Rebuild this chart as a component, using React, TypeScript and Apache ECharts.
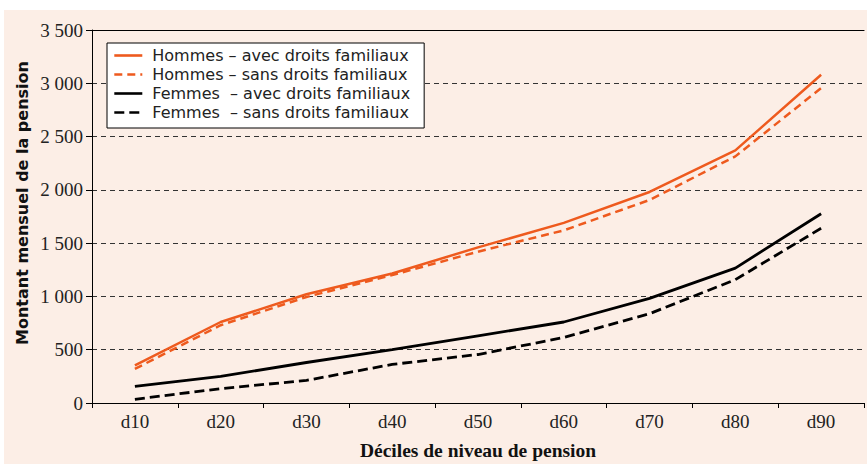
import React, { useEffect, useRef } from "react";
import * as echarts from "echarts";

const categories = ["d10", "d20", "d30", "d40", "d50", "d60", "d70", "d80", "d90"];
const hommesAvec = [353, 760, 1020, 1215, 1460, 1690, 1980, 2370, 3080];
const hommesSans = [320, 730, 995, 1200, 1420, 1620, 1905, 2314, 2955];
const femmesAvec = [156, 250, 380, 500, 630, 760, 982, 1266, 1776];
const femmesSans = [35, 135, 212, 362, 455, 615, 838, 1157, 1640];
const yTicks = [0, 500, 1000, 1500, 2000, 2500, 3000, 3500];

const ORANGE = "#EE5A1E";
const BLACK = "#000000";

function fmt(v: number): string {
  const s = String(Math.round(v));
  return s.replace(/\B(?=(\d{3})+(?!\d))/g, " ");
}

export default function App() {
  const ref = useRef<HTMLDivElement>(null);
  useEffect(() => {
    document.body.style.margin = "0";
    if (!ref.current) return;
    const chart = echarts.init(ref.current, undefined, { renderer: "svg" });
    const serif = "Liberation Serif";
    const sans = "DejaVu Sans";
    chart.setOption({
      animation: false,
      backgroundColor: "#ffffff",
      graphic: [
        {
          type: "rect",
          z: -10,
          silent: true,
          shape: { x: 4, y: 10, width: 863, height: 454 },
          style: { fill: "#FCEEE6" },
        },
        {
          type: "text",
          x: 22,
          y: 203,
          rotation: Math.PI / 2,
          style: {
            text: "Montant mensuel de la pension",
            font: `bold 16px "${sans}"`,
            fill: "#111",
            align: "center",
            verticalAlign: "middle",
          },
        },
      ],
      grid: { left: 92, right: 3, top: 30, bottom: 61, outerBoundsMode: "none", containLabel: false },
      legend: {
        orient: "vertical",
        left: 107,
        top: 43,
        backgroundColor: "#ffffff",
        borderColor: "#000000",
        borderWidth: 1,
        padding: [3, 14, 6, 6],
        itemWidth: 28,
        itemHeight: 14,
        itemGap: 0,
        itemStyle: { opacity: 0, borderWidth: 0 },
        lineStyle: { width: 2.6 },
        textStyle: {
          fontFamily: sans,
          fontSize: 16,
          lineHeight: 19,
          color: "#222",
          padding: [0, 0, 0, 5],
        },
        data: [
          "Hommes – avec droits familiaux",
          "Hommes – sans droits familiaux",
          "Femmes  – avec droits familiaux",
          "Femmes  – sans droits familiaux",
        ],
      },
      xAxis: [
        {
          type: "category",
          data: categories,
          boundaryGap: true,
          name: "Déciles de niveau de pension",
          nameLocation: "middle",
          nameGap: 37,
          nameTextStyle: { fontFamily: serif, fontWeight: "bold", fontSize: 19.5, color: "#111" },
          axisLine: { show: true, lineStyle: { color: "#000", width: 1 } },
          axisTick: { show: true, length: 5, lineStyle: { color: "#000" } },
          axisLabel: { fontFamily: serif, fontSize: 19, color: "#222", margin: 9 },
          splitLine: { show: false },
        },
        {
          type: "category",
          data: categories,
          position: "top",
          axisLine: { show: true, lineStyle: { color: "#000", width: 1.2 } },
          axisTick: { show: false },
          axisLabel: { show: false },
          splitLine: { show: false },
        },
      ],
      yAxis: {
        type: "value",
        min: yTicks[0],
        max: yTicks[yTicks.length - 1],
        interval: 500,
        axisLine: { show: true, lineStyle: { color: "#000", width: 1 } },
        axisTick: { show: true, length: 6, lineStyle: { color: "#000" } },
        axisLabel: {
          fontFamily: serif,
          fontSize: 19,
          color: "#222",
          margin: 9,
          formatter: (v: number) => fmt(v),
        },
        splitLine: {
          show: true,
          lineStyle: { color: "#333", width: 1, type: [5, 4] },
        },
      },
      series: [
        {
          name: "Hommes – avec droits familiaux",
          type: "line",
          data: hommesAvec,
          symbol: "none",
          lineStyle: { color: ORANGE, width: 2.5, type: "solid" },
          itemStyle: { color: ORANGE },
          z: 4,
        },
        {
          name: "Hommes – sans droits familiaux",
          type: "line",
          data: hommesSans,
          symbol: "none",
          lineStyle: { color: ORANGE, width: 2.5, type: [8, 5] },
          itemStyle: { color: ORANGE },
          z: 3,
        },
        {
          name: "Femmes  – avec droits familiaux",
          type: "line",
          data: femmesAvec,
          symbol: "none",
          lineStyle: { color: BLACK, width: 2.8, type: "solid" },
          itemStyle: { color: BLACK },
          z: 4,
        },
        {
          name: "Femmes  – sans droits familiaux",
          type: "line",
          data: femmesSans,
          symbol: "none",
          lineStyle: { color: BLACK, width: 2.8, type: [10, 5] },
          itemStyle: { color: BLACK },
          z: 3,
        },
      ],
    });
    return () => chart.dispose();
  }, []);
  return <div ref={ref} style={{ width: 867, height: 464 }} />;
}
